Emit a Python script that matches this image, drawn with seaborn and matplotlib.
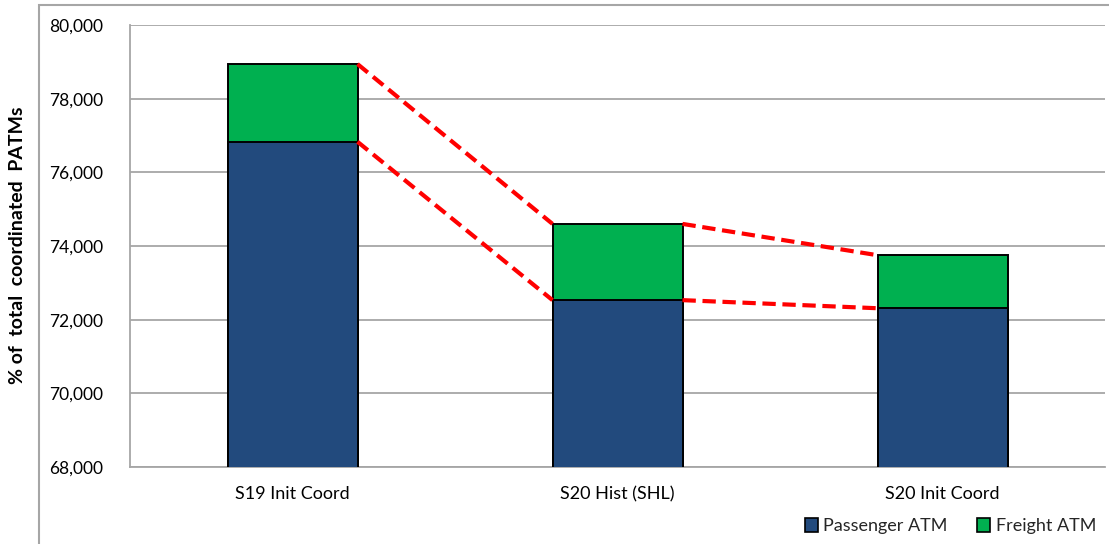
import matplotlib
matplotlib.use("Agg")
import matplotlib.pyplot as plt
from matplotlib.patches import Patch, Rectangle
import seaborn as sns
import pandas as pd
import numpy as np

categories = ["S19 Init Coord", "S20 Hist (SHL)", "S20 Init Coord"]
passenger_atm = [76830, 72530, 72310]
freight_atm = [2110, 2070, 1440]
y_ticks = [68000, 70000, 72000, 74000, 76000, 78000, 80000]

BLUE = "#224A7D"
GREEN = "#00B050"
GRID = "#A6A6A6"

sns.set_theme(style="white")
plt.rcParams["font.family"] = ["Lato", "DejaVu Sans"]

totals = [p + f for p, f in zip(passenger_atm, freight_atm)]
df = pd.DataFrame({"category": categories,
                   "passenger": passenger_atm,
                   "total": totals})

fig = plt.figure(figsize=(11.09, 5.44), dpi=100)
ax = fig.add_axes([130 / 1109, 1 - 467 / 544, 975 / 1109, 442 / 544])

# Stacked bars: full height in green, passenger share drawn over it in blue
sns.barplot(data=df, x="category", y="total", color=GREEN, width=0.4,
            edgecolor="black", linewidth=1.4, saturation=1, ax=ax, zorder=3)
sns.barplot(data=df, x="category", y="passenger", color=BLUE, width=0.4,
            edgecolor="black", linewidth=1.4, saturation=1, ax=ax, zorder=4)

# Dashed connectors between the segment tops of neighbouring bars
half = 0.2
for i in range(len(categories) - 1):
    for series in (totals, passenger_atm):
        ax.plot([i + half, i + 1 - half], [series[i], series[i + 1]],
                color="#FF0000", lw=3, ls=(0, (3.2, 1.6)), zorder=5,
                solid_capstyle="butt", dash_capstyle="butt")

ax.set_ylim(68000, 80000)
ax.set_xlim(-0.5, len(categories) - 0.5)
ax.set_yticks(y_ticks)
ax.set_yticklabels([f"{v:,}" for v in y_ticks])
ax.yaxis.grid(True, color=GRID, lw=1.3, zorder=0)
ax.set_axisbelow(True)

for side in ("top", "right"):
    ax.spines[side].set_visible(False)
for side in ("left", "bottom"):
    ax.spines[side].set_color(GRID)
    ax.spines[side].set_linewidth(1.3)

ax.set_xticks(range(len(categories)))
ax.set_xticklabels(categories)
ax.set_xticks(np.arange(-0.5, len(categories), 1.0), minor=True)
ax.tick_params(axis="x", which="major", length=0, pad=14, labelsize=13,
               labelcolor="black")
ax.tick_params(axis="x", which="minor", length=5, width=1.3, color=GRID,
               direction="out")
ax.tick_params(axis="y", which="major", length=5, width=1.3, color=GRID,
               direction="out", pad=14, labelsize=12.5, labelcolor="black")
ax.set_xlabel("")
ax.set_ylabel("")

fig.text(18 / 1109, 1 - 245 / 544, "% of  total  coordinated  PATMs",
         rotation=90, ha="center", va="center", fontsize=14,
         fontweight="bold", color="black")

handles = [Patch(facecolor=BLUE, edgecolor="black", lw=1.2, label="Passenger ATM"),
           Patch(facecolor=GREEN, edgecolor="black", lw=1.2, label="Freight ATM")]
fig.legend(handles=handles, loc="lower right", bbox_to_anchor=(1.003, -0.012),
           ncol=2, frameon=False, fontsize=13, handlelength=0.75,
           handleheight=0.75, handletextpad=0.3, columnspacing=1.6)

# Chart-area border
fig.patches.append(Rectangle((39 / 1109, -0.2), 1.0, 1.2 - 5 / 544,
                             transform=fig.transFigure, fill=False,
                             edgecolor=GRID, lw=1.5, clip_on=False))

fig.savefig("out.png", dpi=100)
